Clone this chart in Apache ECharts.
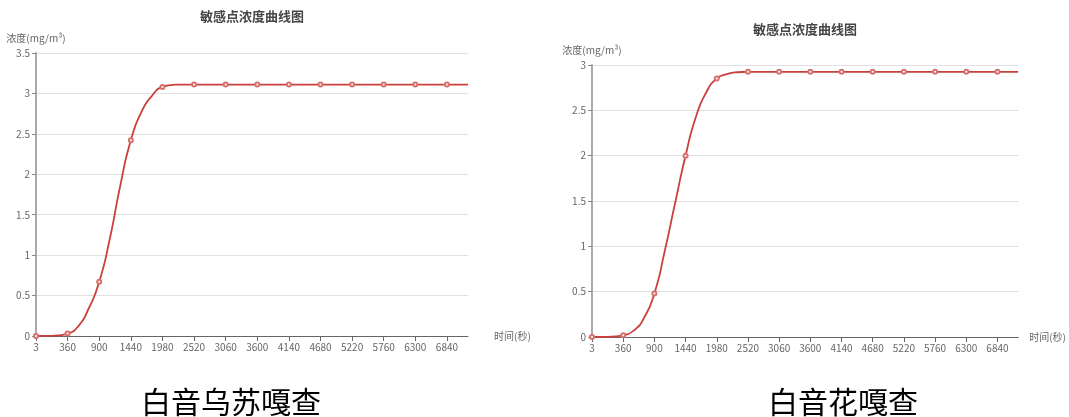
<!DOCTYPE html>
<html>
<head>
<meta charset="utf-8">
<script src="https://cdn.jsdelivr.net/npm/echarts@6/dist/echarts.min.js"></script>
<style>
html,body{margin:0;padding:0;background:#fff;}
#c{width:1069px;height:417px;}
</style>
</head>
<body>
<div id="c"></div>
<script>
// time categories (seconds)
const times = ['3','120','240','360','540','720','900','1080','1260','1440','1620','1800','1980','2160','2340','2520','2700','2880','3060','3240','3420','3600','3780','3960','4140','4320','4500','4680','4860','5040','5220','5400','5580','5760','5940','6120','6300','6480','6660','6840','7020','7200'];

// concentration at 白音乌苏嘎查 (mg/m³)
const concA = [0,0.001,0.006,0.03,0.12,0.34,0.67,1.2,1.86,2.42,2.77,2.97,3.08,3.105,3.11,3.11,3.11,3.11,3.11,3.11,3.11,3.11,3.11,3.11,3.11,3.11,3.11,3.11,3.11,3.11,3.11,3.11,3.11,3.11,3.11,3.11,3.11,3.11,3.11,3.11,3.11,3.11];

// concentration at 白音花嘎查 (mg/m³)
const concB = [0,0.001,0.005,0.02,0.07,0.21,0.48,0.95,1.48,2.0,2.43,2.7,2.85,2.9,2.92,2.925,2.925,2.925,2.925,2.925,2.925,2.925,2.925,2.925,2.925,2.925,2.925,2.925,2.925,2.925,2.925,2.925,2.925,2.925,2.925,2.925,2.925,2.925,2.925,2.925,2.925,2.925];

const chartTitle = '敏感点浓度曲线图';
const captions = ['白音乌苏嘎查', '白音花嘎查'];
const yName = '浓度(mg/m³)';
const xName = '时间(秒)';

const FONT = "'Microsoft YaHei','Noto Sans CJK SC',sans-serif";
const chart = echarts.init(document.getElementById('c'));

function xAx(gi, gap) {
  return {
    type: 'category', gridIndex: gi, data: times, boundaryGap: false,
    name: xName, nameGap: gap, nameTextStyle: {color: '#666', fontSize: 10},
    axisLine: {lineStyle: {color: '#666', width: 1}},
    axisTick: {interval: 2, length: 5, lineStyle: {color: '#666'}},
    axisLabel: {interval: 2, color: '#666', fontSize: 10, margin: 6},
    splitLine: {show: false}
  };
}
function yAx(gi, max) {
  return {
    type: 'value', gridIndex: gi, min: 0, max: max, interval: 0.5,
    name: yName, nameGap: 10, nameTextStyle: {color: '#666', fontSize: 10},
    axisLine: {show: true, lineStyle: {color: '#aaa', width: 2}},
    axisTick: {show: true, length: 4, lineStyle: {color: '#888'}},
    axisLabel: {color: '#666', fontSize: 10, margin: 6},
    splitLine: {lineStyle: {color: '#e0e0e0'}}
  };
}
function ser(i, d) {
  return {
    type: 'line', xAxisIndex: i, yAxisIndex: i, data: d, smooth: 0.6,
    showAllSymbol: false, symbol: 'emptyCircle', symbolSize: 4,
    lineStyle: {color: '#c9403c', width: 1.8},
    itemStyle: {color: '#d8706c', borderWidth: 1},
    animation: false
  };
}

chart.setOption({
  animation: false,
  textStyle: {fontFamily: FONT},
  title: [
    {text: chartTitle, left: 200, top: 10, padding: 0, textStyle: {fontSize: 13, fontWeight: 'bold', color: '#464646', fontFamily: FONT}},
    {text: chartTitle, left: 753, top: 23, padding: 0, textStyle: {fontSize: 13, fontWeight: 'bold', color: '#464646', fontFamily: FONT}},
    {text: captions[0], left: 141, top: 387, padding: 0, textStyle: {fontSize: 30, fontWeight: 'normal', color: '#000', fontFamily: FONT}},
    {text: captions[1], left: 768, top: 387, padding: 0, textStyle: {fontSize: 30, fontWeight: 'normal', color: '#000', fontFamily: FONT}}
  ],
  grid: [
    {left: 36, top: 53, width: 432, height: 283, containLabel: false},
    {left: 592, top: 65, width: 427, height: 272, containLabel: false}
  ],
  xAxis: [xAx(0, 26), xAx(1, 11)],
  yAxis: [yAx(0, 3.5), yAx(1, 3)],
  series: [ser(0, concA), ser(1, concB)]
});
</script>
</body>
</html>
